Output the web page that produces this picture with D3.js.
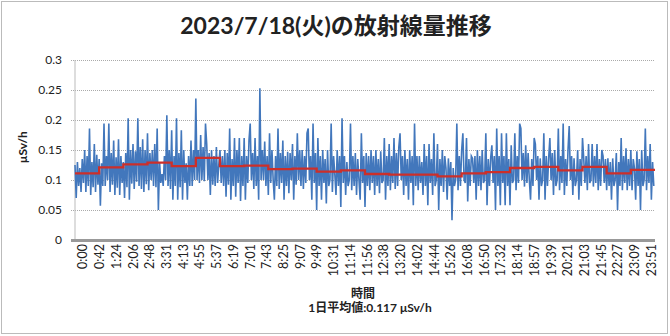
<!DOCTYPE html>
<html><head><meta charset="utf-8">
<script src="https://cdn.jsdelivr.net/npm/d3@7"></script>
<style>
body{margin:0;background:#fff;}
svg text{font-family:Lato,'Noto Sans CJK JP',sans-serif;fill:#222;}
</style>
</head><body>
<svg id="chart" width="670" height="336"></svg>
<script>
const chartTitle = "2023/7/18(火)の放射線量推移";
const yAxisTitle = "μSv/h";
const xAxisTitle = "時間";
const dailyAverageText = "1日平均値:0.117 μSv/h";
const yTickValues = [0, 0.05, 0.1, 0.15, 0.2, 0.25, 0.3];
const xTickLabels = ["0:00","0:42","1:24","2:06","2:48","3:31","4:13","4:55","5:37","6:19","7:01","7:43","8:25","9:07","9:49","10:31","11:14","11:56","12:38","13:20","14:02","14:44","15:26","16:08","16:50","17:32","18:14","18:57","19:39","20:21","21:03","21:45","22:27","23:09","23:51"];
const sampleIntervalMinutes = 3;
const doseValues = [
0.125,0.07,0.13,0.09,0.12,0.08,0.135,0.095,0.15,0.08,0.14,0.09,0.186,0.075,0.13,0.088,0.16,0.08,0.142,0.092,
0.135,0.057,0.128,0.09,0.194,0.09,0.14,0.1,0.194,0.08,0.145,0.092,0.166,0.075,0.138,0.087,0.168,0.075,0.14,0.095,
0.13,0.07,0.145,0.088,0.203,0.067,0.15,0.094,0.16,0.085,0.148,0.097,0.203,0.09,0.155,0.085,0.168,0.08,0.15,0.093,
0.178,0.083,0.145,0.1,0.15,0.09,0.16,0.088,0.186,0.05,0.13,0.095,0.11,0.09,0.14,0.1,0.208,0.09,0.15,0.085,
0.183,0.067,0.14,0.09,0.203,0.067,0.145,0.088,0.183,0.067,0.15,0.095,0.128,0.067,0.14,0.09,0.166,0.09,0.15,0.1,
0.236,0.1,0.15,0.095,0.175,0.1,0.155,0.098,0.194,0.16,0.1,0.145,0.075,0.15,0.092,0.14,0.09,0.155,0.095,0.125,
0.15,0.095,0.14,0.09,0.15,0.072,0.145,0.092,0.186,0.067,0.135,0.09,0.17,0.072,0.15,0.095,0.17,0.065,0.14,0.09,
0.17,0.067,0.14,0.095,0.166,0.194,0.1,0.145,0.085,0.17,0.09,0.14,0.067,0.253,0.1,0.15,0.1,0.164,0.09,0.14,
0.075,0.178,0.095,0.15,0.1,0.067,0.14,0.09,0.186,0.085,0.145,0.095,0.166,0.067,0.14,0.09,0.147,0.078,0.145,0.1,
0.16,0.067,0.14,0.092,0.178,0.1,0.15,0.09,0.15,0.085,0.14,0.095,0.178,0.186,0.1,0.14,0.067,0.194,0.095,0.145,
0.05,0.17,0.09,0.14,0.067,0.15,0.095,0.135,0.061,0.15,0.09,0.1,0.194,0.08,0.14,0.11,0.075,0.15,0.09,0.14,
0.055,0.203,0.095,0.14,0.075,0.13,0.09,0.1,0.194,0.083,0.14,0.09,0.145,0.075,0.135,0.1,0.067,0.178,0.095,0.14,
0.055,0.145,0.09,0.14,0.083,0.15,0.095,0.14,0.075,0.15,0.09,0.135,0.078,0.148,0.095,0.1,0.17,0.067,0.14,0.09,
0.16,0.083,0.14,0.095,0.17,0.085,0.145,0.09,0.155,0.178,0.1,0.14,0.075,0.15,0.09,0.135,0.067,0.15,0.095,0.14,
0.058,0.194,0.09,0.14,0.083,0.14,0.095,0.13,0.075,0.16,0.09,0.14,0.058,0.16,0.095,0.135,0.075,0.178,0.09,0.1,
0.16,0.05,0.135,0.09,0.15,0.08,0.14,0.12,0.067,0.136,0.09,0.13,0.033,0.12,0.09,0.1,0.194,0.083,0.14,0.09,
0.15,0.178,0.1,0.095,0.17,0.064,0.135,0.09,0.14,0.136,0.095,0.14,0.067,0.15,0.09,0.14,0.083,0.15,0.095,0.1,
0.178,0.058,0.135,0.09,0.136,0.158,0.095,0.14,0.05,0.186,0.09,0.14,0.058,0.178,0.095,0.14,0.058,0.178,0.09,0.135,
0.058,0.158,0.095,0.1,0.178,0.083,0.14,0.095,0.194,0.186,0.1,0.145,0.089,0.158,0.095,0.145,0.1,0.067,0.135,0.09,
0.17,0.16,0.1,0.14,0.067,0.136,0.09,0.1,0.178,0.067,0.14,0.09,0.136,0.17,0.1,0.145,0.075,0.15,0.09,0.1,
0.186,0.083,0.14,0.095,0.194,0.075,0.135,0.09,0.15,0.19,0.1,0.14,0.075,0.136,0.09,0.1,0.15,0.067,0.135,0.09,
0.17,0.136,0.095,0.14,0.083,0.16,0.095,0.1,0.16,0.089,0.14,0.095,0.16,0.083,0.135,0.09,0.15,0.14,0.095,0.135,
0.083,0.136,0.09,0.13,0.067,0.136,0.09,0.1,0.145,0.05,0.13,0.09,0.17,0.083,0.14,0.095,0.153,0.083,0.135,0.09,
0.15,0.083,0.135,0.12,0.067,0.148,0.09,0.135,0.05,0.15,0.09,0.1,0.186,0.083,0.14,0.095,0.16,0.067,0.13,0.09
];
const hourlyAverage = [0.111,0.121,0.126,0.129,0.123,0.137,0.123,0.124,0.118,0.119,0.114,0.116,0.110,0.109,0.109,0.106,0.111,0.113,0.120,0.122,0.116,0.122,0.111,0.117];

const svg = d3.select("#chart");
const plot = {left: 75, right: 655, top: 60, bottom: 240};

const x = d3.scaleLinear().domain([0, 1440]).range([plot.left, plot.right]);
const y = d3.scaleLinear().domain([0, 0.3]).range([plot.bottom, plot.top]);
const xLabel = d3.scalePoint().domain(xTickLabels).range([82.5, 651]);

// outer dotted border
svg.append("rect").attr("x", 1.5).attr("y", 1.5).attr("width", 666).attr("height", 332)
  .attr("fill", "none").attr("stroke", "#777").attr("stroke-dasharray", "1,1");

// gridlines + y axis
const yAxis = d3.axisLeft(y).tickValues(yTickValues).tickFormat(d => String(d))
  .tickSize(-(plot.right - plot.left) - 4).tickPadding(9);
const gy = svg.append("g").attr("transform", `translate(${plot.left - 4},0)`).call(yAxis);
gy.select(".domain").remove();
gy.selectAll(".tick line").attr("stroke", "#aaa").attr("stroke-dasharray", "1,1").attr("stroke-width", 1);
gy.selectAll(".tick text").style("font-size", "12px").style("fill", "#222");

svg.append("line").attr("x1", plot.left).attr("x2", plot.left).attr("y1", plot.top).attr("y2", plot.bottom)
  .attr("stroke", "#bbb").attr("stroke-width", 1);

// blue series
const line = d3.line().x((d, i) => x(i * sampleIntervalMinutes)).y(d => y(d));
svg.append("path").datum(doseValues).attr("d", line)
  .attr("fill", "none").attr("stroke", "#4277bc").attr("stroke-width", 1.6).attr("stroke-linejoin", "miter");

// red hourly average steps
const stepData = hourlyAverage.map((v, h) => ({t: h * 60, v}));
stepData.push({t: 1440, v: hourlyAverage[hourlyAverage.length - 1]});
const stepLine = d3.line().x(d => x(d.t)).y(d => y(d.v)).curve(d3.curveStepAfter);
svg.append("path").datum(stepData).attr("d", stepLine)
  .attr("fill", "none").attr("stroke", "#cc2f2a").attr("stroke-width", 2.3);

// x axis (category labels)
const xAxis = d3.axisBottom(xLabel).tickSize(0);
const gx = svg.append("g").attr("transform", `translate(0,${plot.bottom})`).call(xAxis);
gx.select(".domain").remove();
gx.selectAll(".tick text").attr("transform", "rotate(-90)").attr("text-anchor", "end")
  .attr("x", -4).attr("y", 0).attr("dy", "0.35em").style("font-size", "12.5px").style("fill", "#222");
svg.append("line").attr("x1", plot.left - 4).attr("x2", plot.right).attr("y1", plot.bottom + 0.5).attr("y2", plot.bottom + 0.5)
  .attr("stroke", "#999").attr("stroke-width", 3);

// titles
svg.append("text").attr("x", 336).attr("y", 34).attr("text-anchor", "middle")
  .style("font-size", "23px").style("font-weight", "bold").text(chartTitle);
svg.append("text").attr("transform", "translate(27,147) rotate(-90)").attr("text-anchor", "middle")
  .style("font-size", "12px").style("font-weight", "bold").text(yAxisTitle);
svg.append("text").attr("x", 363).attr("y", 298).attr("text-anchor", "middle")
  .style("font-size", "12px").style("font-weight", "bold").text(xAxisTitle);
svg.append("text").attr("x", 370).attr("y", 312).attr("text-anchor", "middle")
  .style("font-size", "12px").style("font-weight", "bold").text(dailyAverageText);
</script>
</body></html>
